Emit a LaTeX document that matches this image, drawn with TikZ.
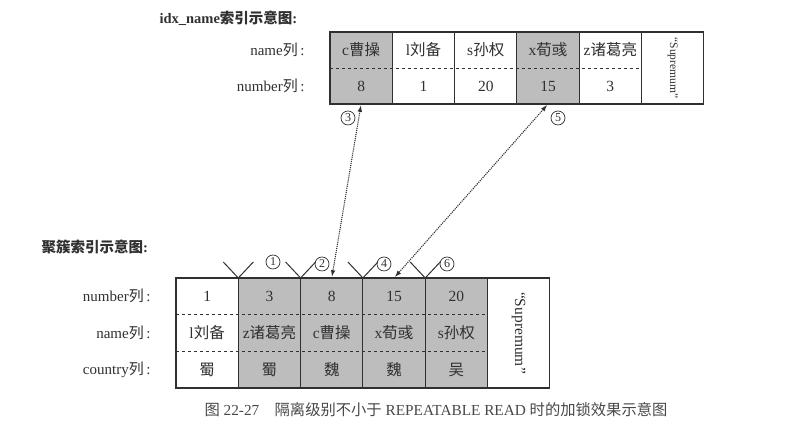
\documentclass[tikz,border=0pt]{standalone}
\usepackage{fontspec}
\setmainfont{Liberation Serif}
\newfontfamily\cjk{Noto Sans CJK SC}
\newcommand\zh[1]{{\cjk #1}}
\usetikzlibrary{arrows.meta,positioning}
\definecolor{ink}{HTML}{303030}
\definecolor{shade}{HTML}{BDBDBD}
\definecolor{capgray}{HTML}{484848}
\tikzset{col/.style={draw=ink,line width=1.1pt,fill=white,minimum width=62.3pt,inner sep=0pt,outer sep=0pt},locked/.style={col,fill=shade},val/.style={minimum width=62.3pt,inner sep=0pt,outer sep=0pt,text=ink,font=\fontsize{15.5}{17}\selectfont},lab/.style={anchor=east,text=ink,font=\fontsize{15}{17}\selectfont},title/.style={anchor=west,text=ink,font=\fontsize{14.5}{17}\selectfont\bfseries},sep/.style={draw=ink,dashed,line width=0.6pt},supr/.style={rotate=-90,text=ink},gapv/.style={draw=ink,line width=1pt},num/.style={circle,draw=ink,line width=0.7pt,inner sep=0pt,minimum size=14pt,text=ink,font=\fontsize{12}{13}\selectfont},ptr/.style={draw=ink,densely dotted,line width=1.1pt,{Latex[length=2.4mm,width=1.6mm]}-{Latex[length=2.4mm,width=1.6mm]},shorten <=1pt,shorten >=1pt},figcap/.style={text=capgray,font=\fontsize{15.3}{17}\selectfont}}

\begin{document}
\begin{tikzpicture}[x=1pt,y=1pt]
\useasboundingbox (0,0) rectangle (788,427);
\node[title] (ttop) at (156,409) {idx\_name\zh{索引示意图}:};
\node[locked,minimum height=72pt] (t1) at (361.15,359) {};
\node[col,minimum height=72pt,right=0pt of t1] (t2) {};
\node[col,minimum height=72pt,right=0pt of t2] (t3) {};
\node[locked,minimum height=72pt,right=0pt of t3] (t4) {};
\node[col,minimum height=72pt,right=0pt of t4] (t5) {};
\node[col,minimum height=72pt,right=0pt of t5] (ts) {};
\node[val,minimum height=36pt,below=0pt of t1.north] (t1a) {c\zh{曹操}};
\node[val,minimum height=36pt,below=0pt of t2.north] (t2a) {l\zh{刘备}};
\node[val,minimum height=36pt,below=0pt of t3.north] (t3a) {s\zh{孙权}};
\node[val,minimum height=36pt,below=0pt of t4.north] (t4a) {x\zh{荀彧}};
\node[val,minimum height=36pt,below=0pt of t5.north] (t5a) {z\zh{诸葛亮}};
\node[val,minimum height=36pt,above=0pt of t1.south] (t1b) {8};
\node[val,minimum height=36pt,above=0pt of t2.south] (t2b) {1};
\node[val,minimum height=36pt,above=0pt of t3.south] (t3b) {20};
\node[val,minimum height=36pt,above=0pt of t4.south] (t4b) {15};
\node[val,minimum height=36pt,above=0pt of t5.south] (t5b) {3};
\node[supr,font=\fontsize{11.5}{13}\selectfont] (tsx) at (ts.center) {``Supremum''};
\draw[sep] (t1a.south west) -- (t5a.south east);
\node[lab,left=22pt of t1a] (tla) {name\zh{列}\,:};
\node[lab,left=22pt of t1b] (tlb) {number\zh{列}\,:};
\node[title] (tbot) at (38,180) {\zh{聚簇索引示意图}:};
\node[col,minimum height=110pt] (b1) at (207.15,94) {};
\node[locked,minimum height=110pt,right=0pt of b1] (b2) {};
\node[locked,minimum height=110pt,right=0pt of b2] (b3) {};
\node[locked,minimum height=110pt,right=0pt of b3] (b4) {};
\node[locked,minimum height=110pt,right=0pt of b4] (b5) {};
\node[col,minimum height=110pt,right=0pt of b5] (bs) {};
\node[val,minimum height=36.7pt,below=0pt of b1.north] (b1a) {1};
\node[val,minimum height=36.7pt,below=0pt of b2.north] (b2a) {3};
\node[val,minimum height=36.7pt,below=0pt of b3.north] (b3a) {8};
\node[val,minimum height=36.7pt,below=0pt of b4.north] (b4a) {15};
\node[val,minimum height=36.7pt,below=0pt of b5.north] (b5a) {20};
\node[val,minimum height=36.7pt] (b1b) at (b1.center) {l\zh{刘备}};
\node[val,minimum height=36.7pt] (b2b) at (b2.center) {z\zh{诸葛亮}};
\node[val,minimum height=36.7pt] (b3b) at (b3.center) {c\zh{曹操}};
\node[val,minimum height=36.7pt] (b4b) at (b4.center) {x\zh{荀彧}};
\node[val,minimum height=36.7pt] (b5b) at (b5.center) {s\zh{孙权}};
\node[val,minimum height=36.7pt,above=0pt of b1.south] (b1c) {\zh{蜀}};
\node[val,minimum height=36.7pt,above=0pt of b2.south] (b2c) {\zh{蜀}};
\node[val,minimum height=36.7pt,above=0pt of b3.south] (b3c) {\zh{魏}};
\node[val,minimum height=36.7pt,above=0pt of b4.south] (b4c) {\zh{魏}};
\node[val,minimum height=36.7pt,above=0pt of b5.south] (b5c) {\zh{吴}};
\node[supr,font=\fontsize{15.5}{17}\selectfont] (bsx) at (bs.center) {``Supremum''};
\draw[sep] (b1a.south west) -- (b5a.south east);
\draw[sep] (b1c.north west) -- (b5c.north east);
\node[lab,left=22pt of b1a] (bla) {number\zh{列}\,:};
\node[lab,left=22pt of b1b] (blb) {name\zh{列}\,:};
\node[lab,left=22pt of b1c] (blc) {country\zh{列}\,:};
\draw[gapv] (b1.north east) ++(-15,16) -- (b1.north east) -- ++(15,16);
\draw[gapv] (b2.north east) ++(-15,16) -- (b2.north east) -- ++(15,16);
\draw[gapv] (b3.north east) ++(-15,16) -- (b3.north east) -- ++(15,16);
\draw[gapv] (b4.north east) ++(-15,16) -- (b4.north east) -- ++(15,16);
\node[num] (n1) at (273,165) {1};
\node[num] (n2) at (322,163) {2};
\node[num] (n4) at (384,163) {4};
\node[num] (n6) at (447,163) {6};
\node[num] (n3) at (348,309) {3};
\node[num] (n5) at (558,309) {5};
\draw[ptr] (t1.south) -- (b3.north);
\draw[ptr] (t4.south) -- (b4.north);
\node[figcap] (figcap) at (436,17) {\zh{图} 22-27\quad\zh{隔离级别不小于} REPEATABLE READ \zh{时的加锁效果示意图}};
\end{tikzpicture}
\end{document}
